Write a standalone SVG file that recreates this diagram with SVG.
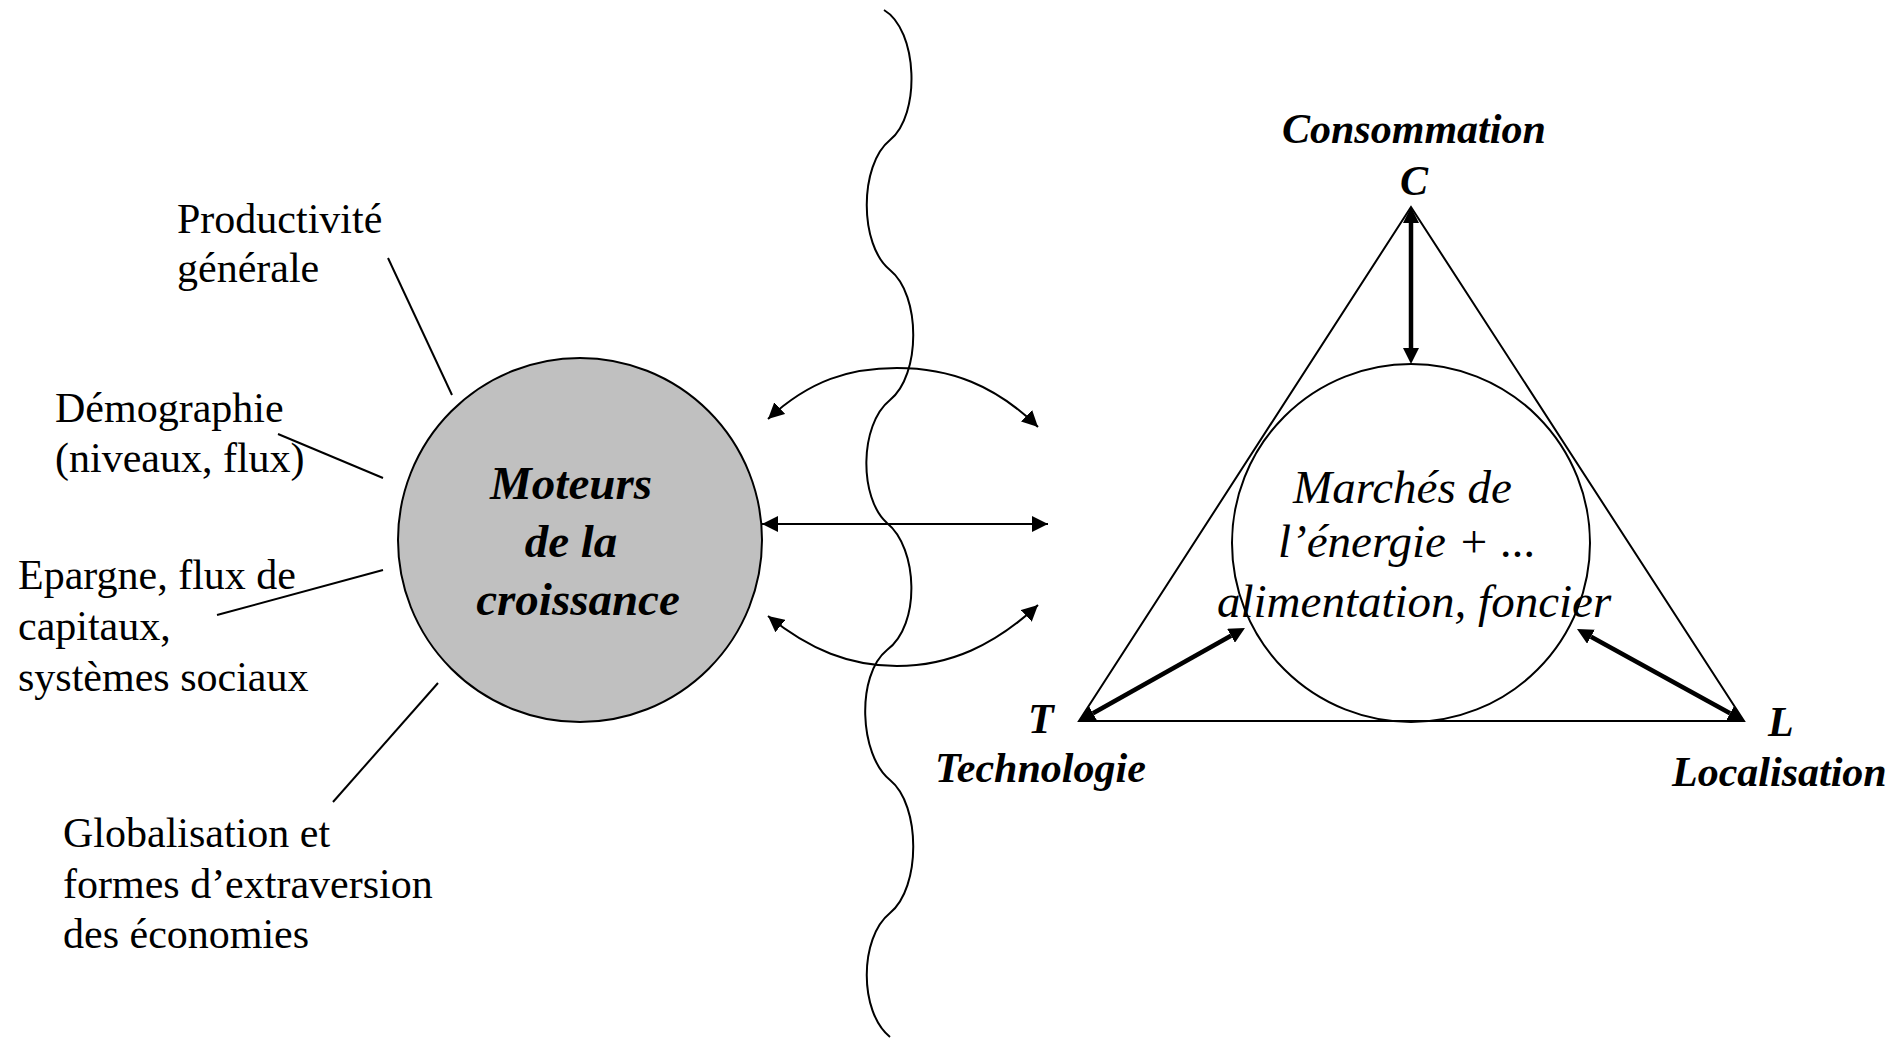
<svg xmlns="http://www.w3.org/2000/svg" width="1900" height="1046" viewBox="0 0 1900 1046">
<style>
.t{font-family:"Liberation Serif","Times New Roman",serif;font-size:42px;fill:#000}
.bi{font-family:"Liberation Serif","Times New Roman",serif;font-size:42px;font-weight:bold;font-style:italic;fill:#000}
.big{font-family:"Liberation Serif","Times New Roman",serif;font-size:47px;font-weight:bold;font-style:italic;fill:#000}
.it{font-family:"Liberation Serif","Times New Roman",serif;font-size:47px;font-style:italic;fill:#000}
.ln{stroke:#000;stroke-width:2;fill:none}
.ar{stroke:#000;stroke-width:2;fill:none;marker-start:url(#tip);marker-end:url(#tip)}
.ab{stroke:#000;stroke-width:4.5;fill:none;marker-start:url(#base);marker-end:url(#base)}
</style>
<defs>
<marker id="tip" markerUnits="userSpaceOnUse" viewBox="0 0 16 16" markerWidth="16" markerHeight="16" refX="16" refY="8" orient="auto-start-reverse"><path d="M0,0 L16,8 L0,16 Z" fill="#000"/></marker>
<marker id="base" markerUnits="userSpaceOnUse" viewBox="0 0 16 16" markerWidth="16" markerHeight="16" refX="0" refY="8" orient="auto-start-reverse"><path d="M0,0 L16,8 L0,16 Z" fill="#000"/></marker>
</defs>
<rect width="1900" height="1046" fill="#fff"/>

<g id="wave">
<path class="ln" d="M884,10 C918,30 921,115 890,140 C859,165 859,245 890,270 C921,295 921,375 890,400 C859,425 859,498 887,523 C918,548 921,625 887,650 C856,675 859,755 890,780 C921,805 921,888 890,913 C859,938 859,1012 890,1037"/>
</g>

<g id="moteurs">
<circle cx="580" cy="540" r="182" fill="#C0C0C0" stroke="#000" stroke-width="2"/>
<text class="big" text-anchor="middle" x="571" y="499">Moteurs</text>
<text class="big" text-anchor="middle" x="571" y="557">de la</text>
<text class="big" text-anchor="middle" x="578" y="615">croissance</text>
</g>

<g id="productivite">
<text class="t" x="177" y="233">Productivité</text>
<text class="t" x="177" y="282">générale</text>
</g>
<g id="demographie">
<text class="t" x="55" y="422">Démographie</text>
<text class="t" x="55" y="472">(niveaux, flux)</text>
</g>
<g id="epargne">
<text class="t" x="18" y="589">Epargne, flux de</text>
<text class="t" x="18" y="640">capitaux,</text>
<text class="t" x="18" y="691">systèmes sociaux</text>
</g>
<g id="globalisation">
<text class="t" x="63" y="847">Globalisation et</text>
<text class="t" x="63" y="898">formes d’extraversion</text>
<text class="t" x="63" y="948">des économies</text>
</g>

<g id="triangle">
<path class="ln" d="M1411,207 L1079,721 L1744,721 Z"/>
</g>
<g id="marches">
<circle cx="1411" cy="543" r="179" fill="none" stroke="#000" stroke-width="2"/>
<text class="it" x="1293" y="503">Marchés de</text>
<text class="it" x="1278" y="557">l’énergie + ...</text>
<text class="it" x="1217" y="617">alimentation, foncier</text>
</g>
<g id="consommation">
<text class="bi" x="1282" y="143">Consommation</text>
<text class="bi" x="1400" y="195">C</text>
</g>
<g id="technologie">
<text class="bi" x="1028" y="733">T</text>
<text class="bi" x="935" y="782">Technologie</text>
</g>
<g id="localisation">
<text class="bi" x="1768" y="736">L</text>
<text class="bi" x="1672" y="786">Localisation</text>
</g>

<g id="connectors">
<line class="ln" x1="388" y1="258" x2="452" y2="395"/>
<line class="ln" x1="278" y1="434" x2="383" y2="478"/>
<line class="ln" x1="217" y1="615" x2="383" y2="570"/>
<line class="ln" x1="438" y1="683" x2="333" y2="802"/>
<path class="ar" d="M768,419 C810,380 850,368 897,368 C950,368 995,385 1038,427"/>
<line class="ar" x1="762" y1="524" x2="1048" y2="524"/>
<path class="ar" d="M768,616 C810,650 850,666 897,666 C950,666 995,645 1038,605"/>
<line class="ab" x1="1411" y1="223" x2="1411" y2="348"/>
<line class="ab" x1="1093" y1="713.2" x2="1231" y2="635.8"/>
<line class="ab" x1="1730" y1="713.3" x2="1591" y2="636.7"/>
</g>
</svg>
